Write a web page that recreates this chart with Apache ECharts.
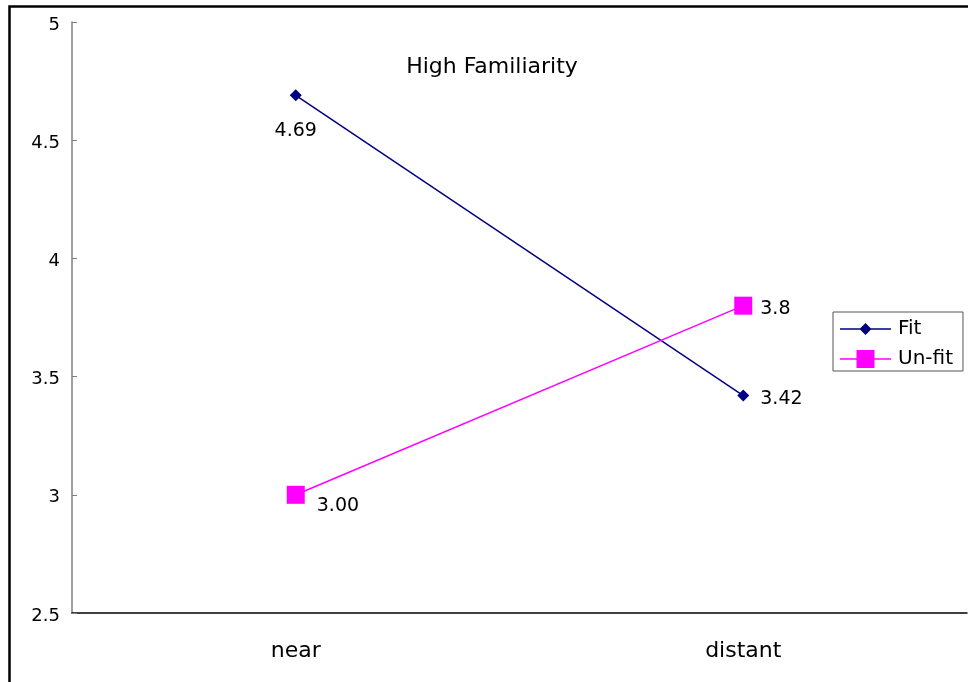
<!DOCTYPE html>
<html><head><meta charset="utf-8">
<script src="https://cdn.jsdelivr.net/npm/echarts@6/dist/echarts.min.js"></script>
<style>html,body{margin:0;padding:0;background:#fff}#c{width:968px;height:682px}</style>
</head><body><div id="c"></div>
<script>
const categories = ['near', 'distant'];
const fitValues = [4.69, 3.42];
const unfitValues = [3.00, 3.8];
const fitLabels = ['4.69', '3.42'];
const unfitLabels = ['3.00', '3.8'];
const yTicks = [2.5, 3, 3.5, 4, 4.5, 5];

const FONT = 'DejaVu Sans, Liberation Sans, sans-serif';
// legend icons: thin line with marker centred on it
const fitIcon = 'path://M0,9.25 L51,9.25 L51,10.75 L0,10.75 Z M25.5,4 L31.5,10 L25.5,16 L19.5,10 Z';
const unfitIcon = 'path://M0,9.25 L51,9.25 L51,10.75 L0,10.75 Z M16.5,1 L34.5,1 L34.5,19 L16.5,19 Z';

const chart = echarts.init(document.getElementById('c'), null, {renderer: 'canvas'});
chart.setOption({
  animation: false,
  backgroundColor: '#fff',
  title: {
    text: 'High Familiarity', left: 487, top: 51, textAlign: 'center',
    textStyle: {fontFamily: FONT, fontSize: 22, fontWeight: 'normal', color: '#000'}
  },
  graphic: [{
    type: 'rect', left: 7, top: 4, z: 100,
    shape: {x: 0, y: 0, width: 1000, height: 720},
    style: {fill: 'none', stroke: '#000', lineWidth: 2.5}
  }],
  legend: {
    orient: 'vertical', left: 833, top: 312,
    padding: [7, 10, 2, 7],
    itemGap: 10,
    itemWidth: 51, itemHeight: 20,
    borderColor: '#555', borderWidth: 1,
    textStyle: {fontFamily: FONT, fontSize: 20, color: '#000', padding: [0, 0, 0, 2]},
    data: [{name: 'Fit', icon: fitIcon}, {name: 'Un-fit', icon: unfitIcon}]
  },
  grid: {left: 72, top: 22, right: 1, bottom: 69, containLabel: false},
  xAxis: {
    type: 'category', data: categories, boundaryGap: true,
    axisLine: {lineStyle: {color: '#000', width: 1.5}},
    axisTick: {inside: true, length: 7, lineStyle: {color: '#000', width: 1.5}},
    axisLabel: {fontFamily: FONT, fontSize: 22, color: '#000', margin: 27}
  },
  yAxis: {
    type: 'value', min: yTicks[0], max: yTicks[yTicks.length - 1], interval: 0.5,
    axisLine: {show: true, lineStyle: {color: '#808080', width: 1.5}},
    axisTick: {show: true, inside: true, length: 5, lineStyle: {color: '#808080'}},
    splitLine: {show: false},
    axisLabel: {fontFamily: FONT, fontSize: 18, color: '#000', margin: 12,
      verticalAlign: 'top', lineHeight: 6, formatter: v => String(v)}
  },
  series: [{
    name: 'Fit', type: 'line',
    symbol: 'diamond', symbolSize: 12,
    itemStyle: {color: '#000080'},
    lineStyle: {color: '#000080', width: 1.5},
    label: {show: true, fontFamily: FONT, fontSize: 19, color: '#000',
      formatter: p => fitLabels[p.dataIndex]},
    data: [
      {value: fitValues[0], label: {position: 'bottom', distance: 20}},
      {value: fitValues[1], label: {position: 'right', distance: 11, offset: [0, 4]}}
    ]
  }, {
    name: 'Un-fit', type: 'line',
    symbol: 'rect', symbolSize: 18,
    itemStyle: {color: '#FF00FF'},
    lineStyle: {color: '#FF00FF', width: 1.5},
    label: {show: true, fontFamily: FONT, fontSize: 19, color: '#000',
      formatter: p => unfitLabels[p.dataIndex]},
    data: [
      {value: unfitValues[0], label: {position: 'right', distance: 12, offset: [0, 11]}},
      {value: unfitValues[1], label: {position: 'right', distance: 8, offset: [0, 3]}}
    ]
  }]
});
</script></body></html>
